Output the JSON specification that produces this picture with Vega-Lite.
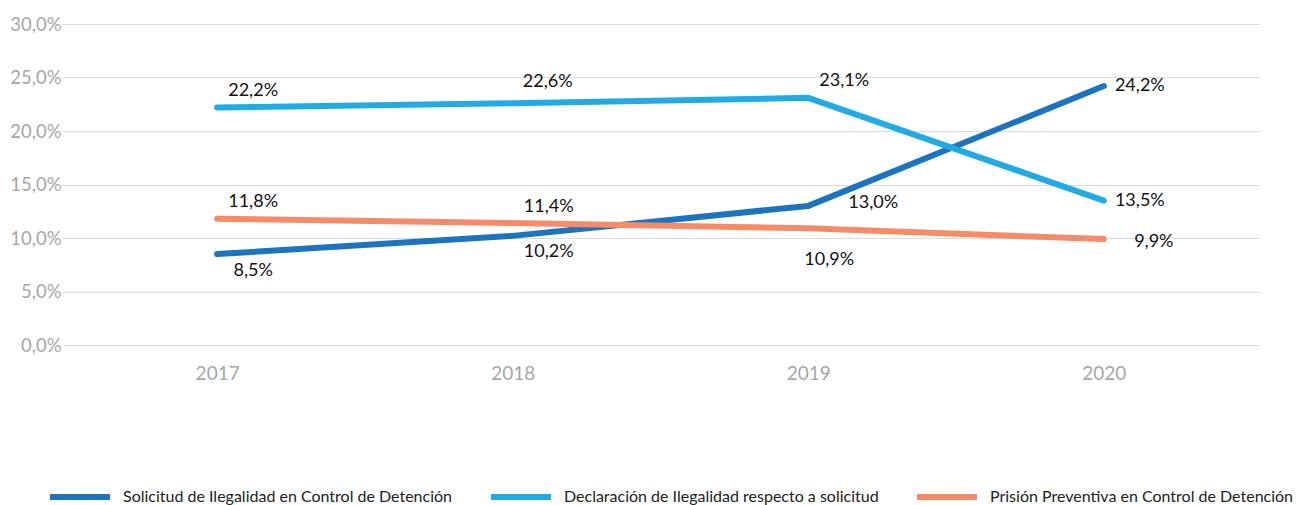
{
  "$schema": "https://vega.github.io/schema/vega-lite/v6.json",
  "width": 1197,
  "height": 321,
  "autosize": {"type": "none"},
  "padding": {"left": 62, "top": 24, "right": 39, "bottom": 160},
  "background": "white",
  "config": {
    "locale": {"number": {"decimal": ",", "thousands": ".", "grouping": [3], "currency": ["$", ""]}},
    "view": {"stroke": null},
    "font": "Lato",
    "text": {"font": "Lato"}
  },
  "data": {
    "values": [
      {"year": "2017", "serie": "Solicitud de Ilegalidad en Control de Detención", "value": 0.085},
      {"year": "2018", "serie": "Solicitud de Ilegalidad en Control de Detención", "value": 0.102},
      {"year": "2019", "serie": "Solicitud de Ilegalidad en Control de Detención", "value": 0.130},
      {"year": "2020", "serie": "Solicitud de Ilegalidad en Control de Detención", "value": 0.242},
      {"year": "2017", "serie": "Declaración de Ilegalidad respecto a solicitud", "value": 0.222},
      {"year": "2018", "serie": "Declaración de Ilegalidad respecto a solicitud", "value": 0.226},
      {"year": "2019", "serie": "Declaración de Ilegalidad respecto a solicitud", "value": 0.231},
      {"year": "2020", "serie": "Declaración de Ilegalidad respecto a solicitud", "value": 0.135},
      {"year": "2017", "serie": "Prisión Preventiva en Control de Detención", "value": 0.118},
      {"year": "2018", "serie": "Prisión Preventiva en Control de Detención", "value": 0.114},
      {"year": "2019", "serie": "Prisión Preventiva en Control de Detención", "value": 0.109},
      {"year": "2020", "serie": "Prisión Preventiva en Control de Detención", "value": 0.099}
    ]
  },
  "encoding": {
    "x": {
      "field": "year", "type": "ordinal",
      "scale": {"type": "point", "padding": 0.525},
      "axis": {"title": null, "domain": false, "ticks": false, "grid": false, "labelAngle": 0,
               "labelFont": "Lato", "labelFontSize": 19, "labelColor": "#a6a6a6", "labelPadding": 19}
    },
    "y": {
      "field": "value", "type": "quantitative",
      "scale": {"domain": [0, 0.3], "nice": false, "zero": true},
      "axis": {"title": null, "domain": false, "ticks": false, "format": ".1%",
               "values": [0, 0.05, 0.1, 0.15, 0.2, 0.25, 0.3],
               "gridColor": "#dcdcdc", "gridWidth": 1,
               "labelFont": "Lato", "labelFontSize": 18.5, "labelColor": "#a6a6a6", "labelPadding": 1}
    }
  },
  "layer": [
    {
      "mark": {"type": "line", "strokeWidth": 6, "strokeCap": "round", "strokeJoin": "round"},
      "encoding": {
        "color": {
          "field": "serie", "type": "nominal",
          "scale": {
            "domain": ["Solicitud de Ilegalidad en Control de Detención", "Declaración de Ilegalidad respecto a solicitud", "Prisión Preventiva en Control de Detención"],
            "range": ["#1b74bd", "#22abe3", "#f58b68"]
          },
          "legend": {
            "title": null, "orient": "none", "direction": "horizontal",
            "legendX": -15, "legendY": 440,
            "symbolType": "M-1,0H1", "symbolSize": 3600, "symbolStrokeWidth": 6,
            "symbolOffset": 0,
            "labelFont": "Lato", "labelFontSize": 16, "labelColor": "#222222",
            "labelOffset": 10, "columnPadding": 26, "labelLimit": 500
          }
        }
      }
    },
    {
      "transform": [{"filter": "(datum.serie[0]=='D' && (datum.year=='2017' || datum.year=='2019')) || (datum.serie[0]=='P' && (datum.year=='2017' || datum.year=='2018'))"}],
      "mark": {"type": "text", "dx": 36, "dy": -16.5, "fontSize": 18, "color": "#111111", "font": "Lato"},
      "encoding": {"text": {"field": "value", "type": "quantitative", "format": ".1%"}}
    },
    {
      "transform": [{"filter": "datum.serie[0]=='D' && datum.year=='2018'"}],
      "mark": {"type": "text", "dx": 35, "dy": -21.5, "fontSize": 18, "color": "#111111", "font": "Lato"},
      "encoding": {"text": {"field": "value", "type": "quantitative", "format": ".1%"}}
    },
    {
      "transform": [{"filter": "datum.serie[0]=='S' && (datum.year=='2017' || datum.year=='2018')"}],
      "mark": {"type": "text", "dx": 36, "dy": 16.5, "fontSize": 18, "color": "#111111", "font": "Lato"},
      "encoding": {"text": {"field": "value", "type": "quantitative", "format": ".1%"}}
    },
    {
      "transform": [{"filter": "(datum.serie[0]=='S' || datum.serie[0]=='D') && datum.year=='2020'"}],
      "mark": {"type": "text", "dx": 36, "dy": 0, "fontSize": 18, "color": "#111111", "font": "Lato"},
      "encoding": {"text": {"field": "value", "type": "quantitative", "format": ".1%"}}
    },
    {
      "transform": [{"filter": "datum.serie[0]=='P' && datum.year=='2020'"}],
      "mark": {"type": "text", "dx": 50, "dy": 2.5, "fontSize": 18, "color": "#111111", "font": "Lato"},
      "encoding": {"text": {"field": "value", "type": "quantitative", "format": ".1%"}}
    },
    {
      "transform": [{"filter": "datum.serie[0]=='S' && datum.year=='2019'"}],
      "mark": {"type": "text", "dx": 65, "dy": -3, "fontSize": 18, "color": "#111111", "font": "Lato"},
      "encoding": {"text": {"field": "value", "type": "quantitative", "format": ".1%"}}
    },
    {
      "transform": [{"filter": "datum.serie[0]=='P' && datum.year=='2019'"}],
      "mark": {"type": "text", "dx": 21, "dy": 31.5, "fontSize": 18, "color": "#111111", "font": "Lato"},
      "encoding": {"text": {"field": "value", "type": "quantitative", "format": ".1%"}}
    }
  ]
}
